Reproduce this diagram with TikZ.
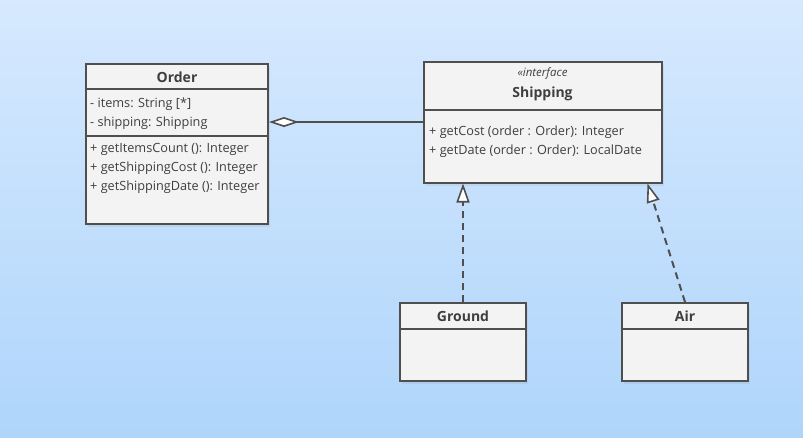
\documentclass[tikz,border=0pt]{standalone}
\usepackage{fontspec}
\setmainfont{Open Sans}
\usetikzlibrary{arrows.meta,shadows}
\definecolor{bgtop}{HTML}{D6E9FE}
\definecolor{bgbot}{HTML}{AFD5FB}
\definecolor{boxfill}{HTML}{F3F3F3}
\definecolor{linec}{HTML}{4F4F4F}
\definecolor{txt}{HTML}{3F3F3F}
\tikzset{
  classbox/.style={draw=linec, line width=2pt, fill=boxfill, inner sep=0pt,
    drop shadow={opacity=0.12, shadow xshift=2pt, shadow yshift=-3pt}},
  divider/.style={draw=linec, line width=2pt},
  title/.style={font=\bfseries\fontsize{14}{16}\selectfont, text=txt, inner sep=0pt},
  member/.style={font=\fontsize{12.7}{15}\selectfont, text=txt, anchor=west, inner sep=0pt},
  stereo/.style={font=\itshape\fontsize{11.5}{13}\selectfont, text=txt, inner sep=0pt},
  aggr/.style={draw=linec, line width=2pt, {Diamond[fill=white,length=30pt,width=10pt,line width=1.6pt]}-},
  realize/.style={draw=linec, line width=2pt, dash pattern=on 7pt off 5pt,
    -{Triangle[fill=white,length=19pt,width=13pt,line width=1.6pt]}}
}
\begin{document}
\begin{tikzpicture}[x=1pt,y=-1pt]
\shade[top color=bgtop, bottom color=bgbot] (0,0) rectangle (803,437);
\useasboundingbox (0,0) rectangle (803,437);

% Order
\node[classbox, minimum width=182pt, minimum height=160pt] (order) at (177,144) {};
\draw[divider] (86,89) -- (268,89);
\draw[divider] (86,136) -- (268,136);
\node[title] (ordert) at (177,77) {Order};
\node[member] (o1) at (90,104.5) {- items: String [*]};
\node[member] (o2) at (90,123.5) {- shipping: Shipping};
\node[member] (o3) at (90,149.5) {+ getItemsCount (): Integer};
\node[member] (o4) at (90,168.5) {+ getShippingCost (): Integer};
\node[member] (o5) at (90,187.5) {+ getShippingDate (): Integer};

% Shipping
\node[classbox, minimum width=238pt, minimum height=121pt] (ship) at (542.5,122) {};
\draw[divider] (423.5,110) -- (661.5,110);
\node[stereo] (st) at (542.5,73) {«interface};
\node[title] (shipt) at (542.5,93.5) {Shipping};
\node[member] (s1) at (429,132.5) {+ getCost (order : Order): Integer};
\node[member] (s2) at (429,151.5) {+ getDate (order : Order): LocalDate};

% Ground
\node[classbox, minimum width=126pt, minimum height=78pt] (ground) at (463,342) {};
\draw[divider] (400,329) -- (526,329);
\node[title] (groundt) at (463,316.5) {Ground};

% Air
\node[classbox, minimum width=126pt, minimum height=78pt] (air) at (685,342) {};
\draw[divider] (622,329) -- (748,329);
\node[title] (airt) at (685,316.5) {Air};

% connectors
\coordinate (aggfrom) at ([yshift=22pt]order.east);
\draw[aggr] (aggfrom) -- (ship.west |- aggfrom);
\draw[realize] (ground.north) -- (ground.north |- ship.south);
\coordinate (airtip) at ([xshift=105pt]ship.south);
\draw[realize] (air.north) -- (airtip);
\end{tikzpicture}
\end{document}
